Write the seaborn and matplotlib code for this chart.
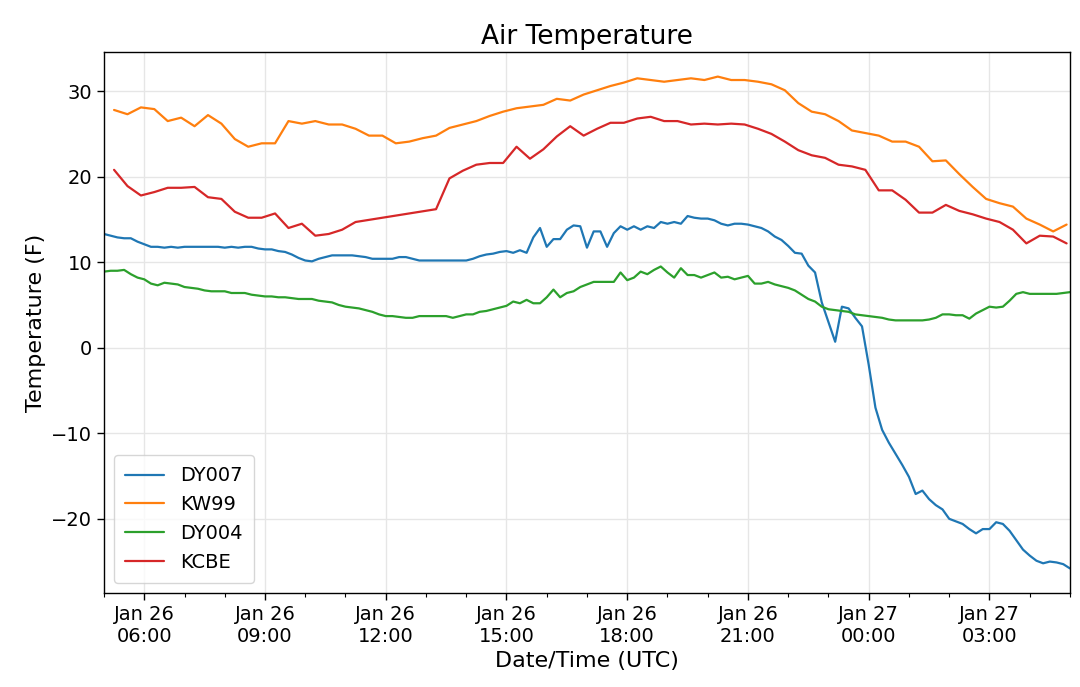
import pandas as pd
import matplotlib
matplotlib.use('Agg')
import matplotlib.pyplot as plt
import matplotlib.dates as mdates
import seaborn as sns

# DY007 and DY004 readings every 10 min, 26 Jan 05:00 -> 27 Jan 05:00 (one row per hour)
dy007 = [
    13.3, 13.1, 12.9, 12.8, 12.8, 12.4,
    12.1, 11.8, 11.8, 11.7, 11.8, 11.7,
    11.8, 11.8, 11.8, 11.8, 11.8, 11.8,
    11.7, 11.8, 11.7, 11.8, 11.8, 11.6,
    11.5, 11.5, 11.3, 11.2, 10.9, 10.5,
    10.2, 10.1, 10.4, 10.6, 10.8, 10.8,
    10.8, 10.8, 10.7, 10.6, 10.4, 10.4,
    10.4, 10.4, 10.6, 10.6, 10.4, 10.2,
    10.2, 10.2, 10.2, 10.2, 10.2, 10.2,
    10.2, 10.4, 10.7, 10.9, 11.0, 11.2,
    11.3, 11.1, 11.4, 11.1, 12.9, 14.0,
    11.8, 12.7, 12.7, 13.8, 14.3, 14.2,
    11.7, 13.6, 13.6, 11.8, 13.4, 14.2,
    13.8, 14.2, 13.8, 14.2, 14.0, 14.7,
    14.5, 14.7, 14.5, 15.4, 15.2, 15.1,
    15.1, 14.9, 14.5, 14.3, 14.5, 14.5,
    14.4, 14.2, 14.0, 13.6, 13.0, 12.6,
    11.9, 11.1, 11.0, 9.6, 8.8, 5.3,
    3.0, 0.7, 4.8, 4.6, 3.5, 2.5,
    -2.0, -7.0, -9.6, -11.1, -12.4, -13.7,
    -15.1, -17.1, -16.7, -17.7, -18.4, -18.9,
    -20.0, -20.3, -20.6, -21.2, -21.7, -21.2,
    -21.2, -20.4, -20.6, -21.4, -22.5, -23.6,
    -24.3, -24.9, -25.2, -25.0, -25.1, -25.3,
    -25.8,
]
dy004 = [
    8.9, 9.0, 9.0, 9.1, 8.6, 8.2,
    8.0, 7.5, 7.3, 7.6, 7.5, 7.4,
    7.1, 7.0, 6.9, 6.7, 6.6, 6.6,
    6.6, 6.4, 6.4, 6.4, 6.2, 6.1,
    6.0, 6.0, 5.9, 5.9, 5.8, 5.7,
    5.7, 5.7, 5.5, 5.4, 5.3, 5.0,
    4.8, 4.7, 4.6, 4.4, 4.2, 3.9,
    3.7, 3.7, 3.6, 3.5, 3.5, 3.7,
    3.7, 3.7, 3.7, 3.7, 3.5, 3.7,
    3.9, 3.9, 4.2, 4.3, 4.5, 4.7,
    4.9, 5.4, 5.2, 5.6, 5.2, 5.2,
    5.9, 6.8, 5.9, 6.4, 6.6, 7.1,
    7.4, 7.7, 7.7, 7.7, 7.7, 8.8,
    7.9, 8.2, 8.9, 8.6, 9.1, 9.5,
    8.8, 8.2, 9.3, 8.5, 8.5, 8.2,
    8.5, 8.8, 8.2, 8.3, 8.0, 8.2,
    8.4, 7.5, 7.5, 7.7, 7.4, 7.2,
    7.0, 6.7, 6.2, 5.7, 5.4, 4.8,
    4.5, 4.4, 4.3, 4.2, 3.9, 3.8,
    3.7, 3.6, 3.5, 3.3, 3.2, 3.2,
    3.2, 3.2, 3.2, 3.3, 3.5, 3.9,
    3.9, 3.8, 3.8, 3.4, 4.0, 4.4,
    4.8, 4.7, 4.8, 5.5, 6.3, 6.5,
    6.3, 6.3, 6.3, 6.3, 6.3, 6.4,
    6.5,
]

# KW99 and KCBE readings every 20 min, 26 Jan 05:15 -> 27 Jan 04:55
kw99 = [
    27.8, 27.3, 28.1, 27.9, 26.5, 26.9, 25.9, 27.2, 26.2, 24.4, 23.5, 23.9,
    23.9, 26.5, 26.2, 26.5, 26.1, 26.1, 25.6, 24.8, 24.8, 23.9, 24.1, 24.5,
    24.8, 25.7, 26.1, 26.5, 27.1, 27.6, 28.0, 28.2, 28.4, 29.1, 28.9, 29.6,
    30.1, 30.6, 31.0, 31.5, 31.3, 31.1, 31.3, 31.5, 31.3, 31.7, 31.3, 31.3,
    31.1, 30.8, 30.1, 28.6, 27.6, 27.3, 26.5, 25.4, 25.1, 24.8, 24.1, 24.1,
    23.5, 21.8, 21.9, 20.3, 18.8, 17.4, 16.9, 16.5, 15.1, 14.4, 13.6, 14.4,
]
kcbe = [
    20.8, 18.9, 17.8, 18.2, 18.7, 18.7, 18.8, 17.6, 17.4, 15.9, 15.2, 15.2,
    15.7, 14.0, 14.5, 13.1, 13.3, 13.8, 14.7, None, None, None, None, None,
    16.2, 19.8, 20.7, 21.4, 21.6, 21.6, 23.5, 22.1, 23.2, 24.7, 25.9, 24.8,
    25.6, 26.3, 26.3, 26.8, 27.0, 26.5, 26.5, 26.1, 26.2, 26.1, 26.2, 26.1,
    25.6, 25.0, 24.1, 23.1, 22.5, 22.2, 21.4, 21.2, 20.8, 18.4, 18.4, 17.3,
    15.8, 15.8, 16.7, 16.0, 15.6, 15.1, 14.7, 13.8, 12.2, 13.1, 13.0, 12.2,
]

stations = ['DY007', 'KW99', 'DY004', 'KCBE']
colors = ['#1f77b4', '#ff7f0e', '#2ca02c', '#d62728']

t10 = pd.date_range('2019-01-26 05:00', periods=len(dy007), freq='10min')
t20 = pd.date_range('2019-01-26 05:15', periods=len(kw99), freq='20min')

frames = [
    pd.DataFrame({'time': t10, 'temp': dy007, 'station': 'DY007'}),
    pd.DataFrame({'time': t20, 'temp': kw99, 'station': 'KW99'}),
    pd.DataFrame({'time': t10, 'temp': dy004, 'station': 'DY004'}),
    pd.DataFrame({'time': t20, 'temp': kcbe, 'station': 'KCBE'}),
]
df = pd.concat(frames, ignore_index=True)
df['temp'] = pd.to_numeric(df['temp'], errors='coerce')
df = df.dropna()

sns.set_style('white')
plt.rcParams['font.family'] = ['DejaVu Sans']
plt.rcParams['text.color'] = 'black'
plt.rcParams['axes.labelcolor'] = 'black'
plt.rcParams['xtick.color'] = 'black'
plt.rcParams['ytick.color'] = 'black'

fig = plt.figure(figsize=(10.8, 6.87), dpi=100)
ax = fig.add_axes([0.0963, 0.1368, 0.8944, 0.7875])

sns.lineplot(data=df, x='time', y='temp', hue='station', hue_order=stations,
             palette=colors, estimator=None, linewidth=1.6, ax=ax)

ax.set_xlim(t10[0], t10[-1])
ax.xaxis.set_major_locator(mdates.HourLocator(byhour=range(0, 24, 3)))
ax.xaxis.set_minor_locator(mdates.HourLocator())
ax.xaxis.set_major_formatter(mdates.DateFormatter('%b %d\n%H:%M'))

ax.grid(True, which='major', color='#e6e6e6', linewidth=1)
ax.tick_params(axis='both', which='major', direction='out', length=5, width=1,
               labelsize=14, bottom=True, left=True, colors='black')
ax.tick_params(axis='x', which='minor', direction='out', length=3, width=0.8, bottom=True)
for s in ax.spines.values():
    s.set_color('black')
    s.set_linewidth(1)

ax.set_title('Air Temperature', fontsize=19, color='black')
ax.set_xlabel('Date/Time (UTC)', fontsize=16, color='black')
ax.set_ylabel('Temperature (F)', fontsize=16, color='black')
leg = ax.legend(loc='lower left', fontsize=14, frameon=True, borderpad=0.6, handlelength=2)
for txt in leg.get_texts():
    txt.set_color('black')

fig.savefig('out.png', dpi=100)
